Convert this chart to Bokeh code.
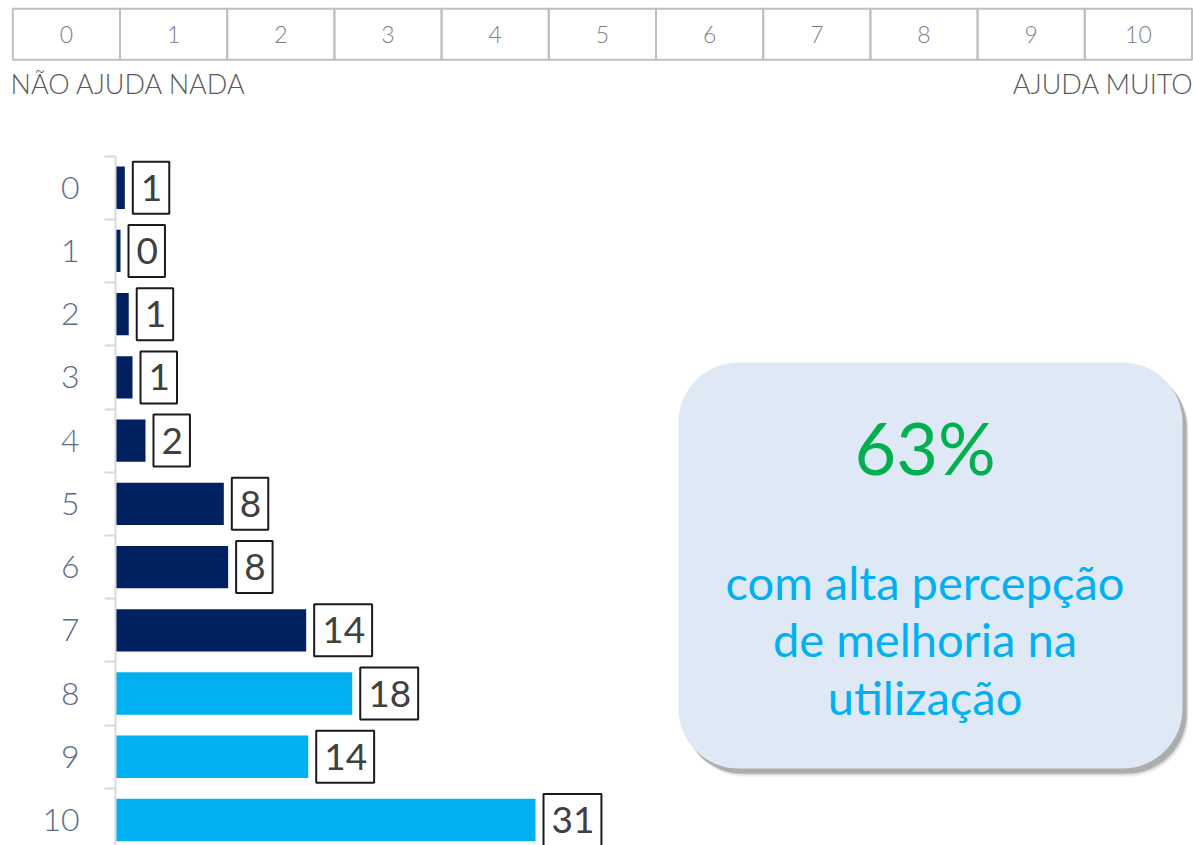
from bokeh.plotting import figure
from bokeh.models import Range1d, FixedTicker, BoxAnnotation, ColumnDataSource
from bokeh.layouts import column
from bokeh.core.properties import value
from bokeh.embed import file_html
from bokeh.resources import INLINE

# ---------------- data ----------------
categories = ["0", "1", "2", "3", "4", "5", "6", "7", "8", "9", "10"]
bar_values = [0.69, 0.37, 0.98, 1.26, 2.22, 8.02, 8.34, 14.12, 17.53, 14.27, 31.1]
bar_labels = ["1", "0", "1", "1", "2", "8", "8", "14", "18", "14", "31"]
bar_groups = ["baixa", "baixa", "baixa", "baixa", "baixa", "baixa", "baixa", "baixa",
              "alta", "alta", "alta"]
scale_labels = ["0", "1", "2", "3", "4", "5", "6", "7", "8", "9", "10"]
scale_left_text = "NÃO AJUDA NADA"
scale_right_text = "AJUDA MUITO"
highlight_value = "63%"
highlight_lines = ["com alta percepção", "de melhoria na", "utilização"]

# ---------------- style ----------------
NAVY = "#002060"
CYAN = "#00B0F0"
GREEN = "#00B050"
BOX_FILL = "#DEE9F5"
LIGHT = "Lato Light, Lato"
W = 1193
TOP_H = 100
MAIN_H = 745
PX_PER_UNIT = 13.505
ROW0 = 187.2
ROW_STEP = 63.23

# ---------------- top scale ----------------
box_w = (1191.5 - 12.3) / len(scale_labels)
top = figure(width=W, height=TOP_H, output_backend="svg", toolbar_location=None,
             x_range=Range1d(-12.3 / box_w, (W - 12.3) / box_w),
             y_range=Range1d(TOP_H, 0),
             x_axis_location=None, y_axis_location=None,
             min_border=0, min_border_left=0, min_border_right=0,
             min_border_top=0, min_border_bottom=0)
top.frame_align = False
top.outline_line_color = None
top.grid.visible = False
top.extra_x_ranges = {"px": Range1d(0, W)}

scale_pos = list(range(len(scale_labels)))
top_src = ColumnDataSource(dict(
    left=[i for i in scale_pos],
    right=[i + 1 for i in scale_pos],
    mid=[i + 0.5 for i in scale_pos],
    label=scale_labels,
))
top.quad(left="left", right="right", top=8.3, bottom=59.3, source=top_src,
         fill_color=None, line_color="#BFBFBF", line_width=2)
top.text(x="mid", y=34, text="label", source=top_src,
         text_align="center", text_baseline="middle",
         text_font=value(LIGHT), text_font_size="23px", text_color="#808080")
top.text(x=[10], y=[83], text=[scale_left_text], x_range_name="px",
         text_align="left", text_baseline="middle",
         text_font=value(LIGHT), text_font_size="27px", text_color="#595959")
top.text(x=[1193], y=[83], text=[scale_right_text], x_range_name="px",
         text_align="right", text_baseline="middle",
         text_font=value(LIGHT), text_font_size="27px", text_color="#595959")

# ---------------- main bar chart ----------------
p = figure(width=W, height=MAIN_H, output_backend="svg", toolbar_location=None,
           x_range=Range1d(0, (W - 115) / PX_PER_UNIT),
           y_range=Range1d((845 - ROW0) / ROW_STEP, (100 - ROW0) / ROW_STEP),
           x_axis_location=None,
           min_border_left=115, min_border_right=0, min_border_top=0, min_border_bottom=0)
p.frame_align = False
p.outline_line_color = None
p.grid.visible = False
p.extra_x_ranges = {"px": Range1d(115, W)}
p.extra_y_ranges = {"px": Range1d(845, 100)}

positions = list(range(len(categories)))
colors = [CYAN if g == "alta" else NAVY for g in bar_groups]
src = ColumnDataSource(dict(pos=positions, value=bar_values, label=bar_labels, color=colors))

p.hbar(y="pos", left=0, right="value", height=0.67, source=src,
       fill_color="color", line_color=None)
p.text(x="value", y="pos", text="label", source=src,
       x_offset=8, text_align="left", text_baseline="middle",
       text_font=value("Lato"), text_font_size="37px", text_color="#404040",
       border_line_color="#1A1A1A", border_line_width=2,
       padding=dict(left=8, right=7, top=13, bottom=13))

yaxis = p.yaxis[0]
yaxis.ticker = FixedTicker(ticks=positions, minor_ticks=[i - 0.5 for i in range(len(categories) + 1)])
yaxis.major_label_overrides = {i: c for i, c in zip(positions, categories)}
yaxis.bounds = (-0.5, len(categories) - 0.5)
yaxis.axis_line_color = "#D9D9D9"
yaxis.axis_line_width = 2
yaxis.major_tick_out = 0
yaxis.major_tick_in = 0
yaxis.minor_tick_out = 11
yaxis.minor_tick_in = 0
yaxis.minor_tick_line_color = "#D9D9D9"
yaxis.minor_tick_line_width = 2
yaxis.major_label_standoff = 25
yaxis.major_label_text_font = LIGHT
yaxis.major_label_text_font_size = "32px"
yaxis.major_label_text_color = "#5B6B88"

# rounded summary box with shadow
for dx, dy, alpha in [(6, 8, 0.12), (5, 6, 0.2), (4, 5, 0.3)]:
    p.add_layout(BoxAnnotation(left=678 + dx, right=1182 + dx, top=362 + dy, bottom=768 + dy,
                               x_range_name="px", y_range_name="px", level="underlay",
                               fill_color="#606060", fill_alpha=alpha, line_color=None,
                               border_radius=60))
p.add_layout(BoxAnnotation(left=678, right=1182, top=362, bottom=768,
                           x_range_name="px", y_range_name="px", level="underlay",
                           fill_color=BOX_FILL, fill_alpha=1.0, line_color=None,
                           border_radius=60))

p.text(x=[924.5], y=[446], text=[highlight_value], x_range_name="px", y_range_name="px",
       text_align="center", text_baseline="middle",
       text_font=value("Lato"), text_font_size="72px", text_color=GREEN)
line_y = [581 + 57.5 * k for k in range(len(highlight_lines))]
p.text(x=[924.5] * len(highlight_lines), y=line_y, text=highlight_lines,
       x_range_name="px", y_range_name="px",
       text_align="center", text_baseline="alphabetic",
       text_font=value("Lato"), text_font_size="47px", text_color=CYAN)

layout = column(top, p, spacing=0)
open("out.html", "w").write(file_html(layout, INLINE))
